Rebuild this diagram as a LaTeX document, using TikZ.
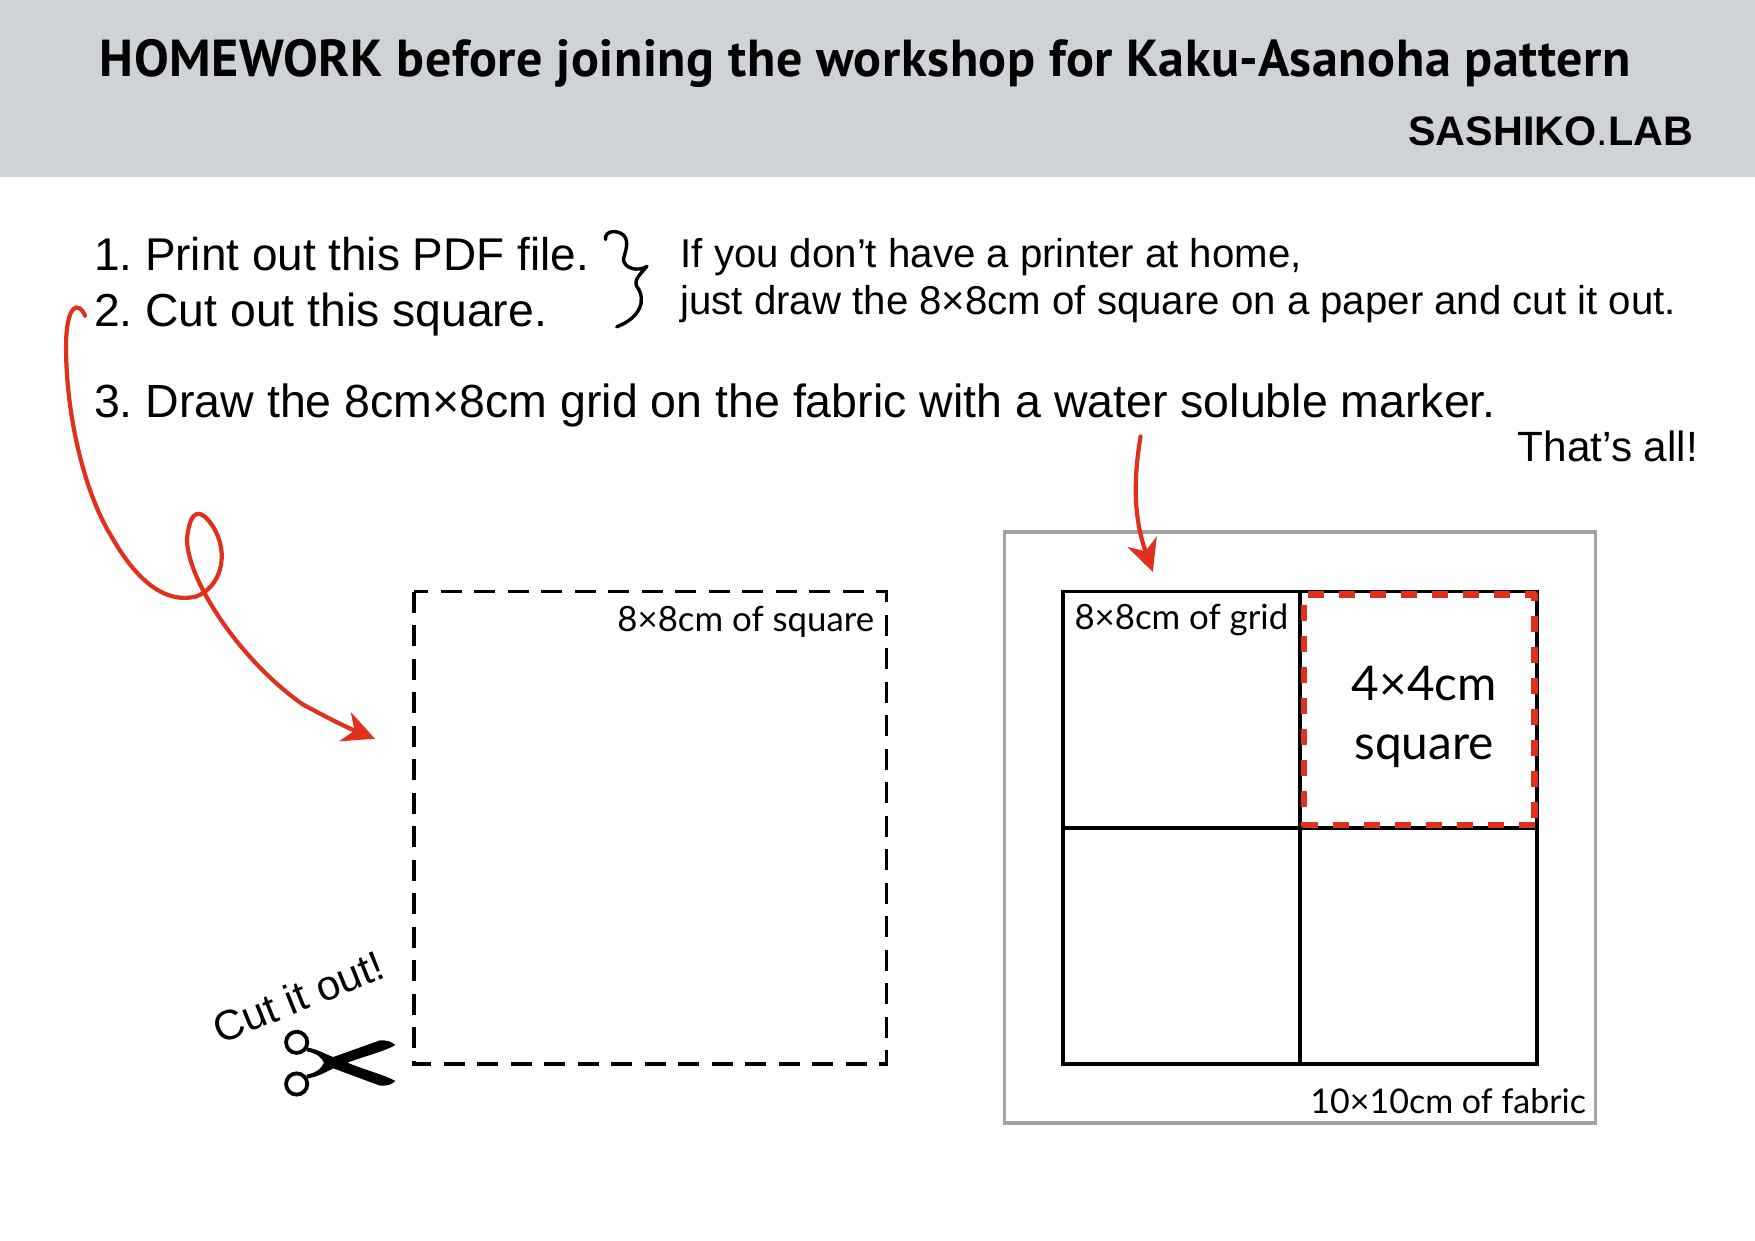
\documentclass[tikz,border=0pt]{standalone}
\usepackage{fontspec}
\setmainfont{Liberation Sans}
\newfontfamily\titlefont[LetterSpace=1.15]{PT Sans}
\newfontfamily\gillfont{Lato}
\usetikzlibrary{arrows.meta}
\definecolor{headgray}{HTML}{CFD2D7}
\definecolor{fabricgray}{HTML}{9DA3A9}
\definecolor{redpen}{HTML}{E0301E}
\newcommand{\fsz}[1]{\fontsize{#1}{#1}\selectfont}
\frenchspacing
\tikzset{
  txt/.style={inner sep=0pt,outer sep=0pt,anchor=base west,text=black},
  txtr/.style={inner sep=0pt,outer sep=0pt,anchor=base east,text=black},
  txtc/.style={inner sep=0pt,outer sep=0pt,anchor=base,text=black},
  item/.style={txt,font=\fsz{46.5}},
  note/.style={txt,font=\fsz{40.2}},
  gill/.style={font=\gillfont\fsz{34.8}},
  gillbig/.style={txtc,font=\gillfont\fsz{47.8}},
  redline/.style={draw=redpen,line width=4.2pt,line cap=round,line join=round},
  blackline/.style={draw=black,line width=3.9pt},
  cutline/.style={blackline,dash pattern=on 21pt off 12.5pt},
  reddash/.style={draw=redpen,line width=6.5pt,dash pattern=on 16pt off 15pt,line join=round},
  redtip/.style={-{Stealth[length=32pt,width=31pt,inset=10pt]}},
}
\begin{document}
\begin{tikzpicture}[x=1.11926pt,y=-1.11926pt]
\useasboundingbox (0,0) rectangle (1568,1108.75);
\fill[white] (0,0) rectangle (1568,1108.75);
\fill[headgray] (0,0) rectangle (1568,158.3);
\node[txt,font=\titlefont\bfseries\fsz{52}] (title) at (89,68) {HOMEWORK before joining the workshop for Kaku-Asanoha pattern};
\node[txtr,font=\fsz{41.3}] (brand) at (1512.5,130) {\textbf{SASHIKO}.\textbf{LAB}};
\node[txt,font=\fsz{45.9}] (s1) at (84,242) {1. Print out this PDF file.};
\node[txt,font=\fsz{46.3}] (s2) at (84,292) {2. Cut out this square.};
\node[item] (s3) at (84,373) {3. Draw the 8cm×8cm grid on the fabric with a water soluble marker.};
\node[note] (n1) at (608,239) {If you don’t have a printer at home,};
\node[note] (n2) at (608,281) {just draw the 8×8cm of square on a paper and cut it out.};
\node[txt,font=\fsz{42.3}] (done) at (1356,412) {That’s all!};
\node[txt,rotate=22,font=\fsz{42}] (cutit) at (197,933) {Cut it out!};
% brace
\draw[black,line width=3.4pt,line cap=round,line join=round]
  (541,214) .. controls (540,206) and (551,205) .. (557,210)
  .. controls (563,216) and (558,226) .. (557,232)
  .. controls (558,240) and (570,243) .. (578,238)
  .. controls (572,245) and (566,250) .. (569,256)
  .. controls (578,268) and (572,284) .. (551,292);
% dashed square
\coordinate (dA) at (369.5,528.5); \coordinate (dB) at (792,950.5);
\draw[cutline] (dA) rectangle (dB);
\node[txtr,gill] (sq) at (781,564) {8×8cm of square};
% fabric
\coordinate (fA) at (897.5,475.5); \coordinate (fB) at (1425.5,1003);
\draw[fabricgray,line width=3.8pt] (fA) rectangle (fB);
% grid
\coordinate (gA) at (950,528.5); \coordinate (gB) at (1373,950.5);
\coordinate (gT) at (1161.5,528.5); \coordinate (gD) at (1161.5,950.5);
\coordinate (gL) at (950,739.5); \coordinate (gR) at (1373,739.5);
\draw[blackline] (gA) rectangle (gB);
\draw[blackline] (gT) -- (gD);
\draw[blackline] (gL) -- (gR);
\coordinate (rA) at (1165,531); \coordinate (rB) at (1371,737);
\draw[reddash] (rB) -- (rB -| rA) -- (rA) -- (rA -| rB) -- cycle;
\node[txt,gill] (gr) at (960,562.5) {8×8cm of grid};
\node[gillbig] (four) at (1272.5,625.5) {4×4cm};
\node[gillbig] (sqw) at (1272.5,679) {square};
\node[txtr,font=\gillfont\fsz{34},inner sep=0pt,anchor=base east] (fab) at (1417,994.5) {10×10cm of fabric};
% red arrows
\coordinate (a1) at (76,282); \coordinate (a2) at (335,660);
\draw[redline,redtip] (a1)
  .. controls (70,268) and (59,272) .. (59,310)
  .. controls (59,370) and (75,440) .. (100,480)
  .. controls (120,515) and (145,540) .. (175,533)
  .. controls (197,525) and (206,495) .. (190,470)
  .. controls (180,455) and (170,452) .. (167,482)
  .. controls (168,520) and (215,590) .. (270,629)
  .. controls (290,640) and (310,650) .. (a2);
\coordinate (b1) at (1019,390); \coordinate (b2) at (1030,511);
\draw[redline,redtip] (b1)
  .. controls (1015,415) and (1010,455) .. (b2);
% scissors
\begin{scope}[shift={(169.75,830.9)},x=0.3333pt,y=-0.3333pt]
\draw[black,line width=3.8pt] (320,337) circle [radius=10.6pt];
\draw[black,line width=3.8pt] (320,462) circle [radius=10.6pt];
\fill[black] (350,352) .. controls (385,358) and (410,375) .. (430,381)
  -- (570,331) .. controls (590,330) and (605,335) .. (616,345)
  .. controls (590,362) and (520,380) .. (472,398)
  .. controls (520,418) and (590,437) .. (616,453)
  .. controls (605,465) and (590,468) .. (570,467)
  -- (430,415) .. controls (410,425) and (385,440) .. (350,446)
  -- (350,434) .. controls (380,428) and (395,415) .. (402,398)
  .. controls (395,382) and (380,370) .. (350,364) -- cycle;
\end{scope}
\end{tikzpicture}
\end{document}
